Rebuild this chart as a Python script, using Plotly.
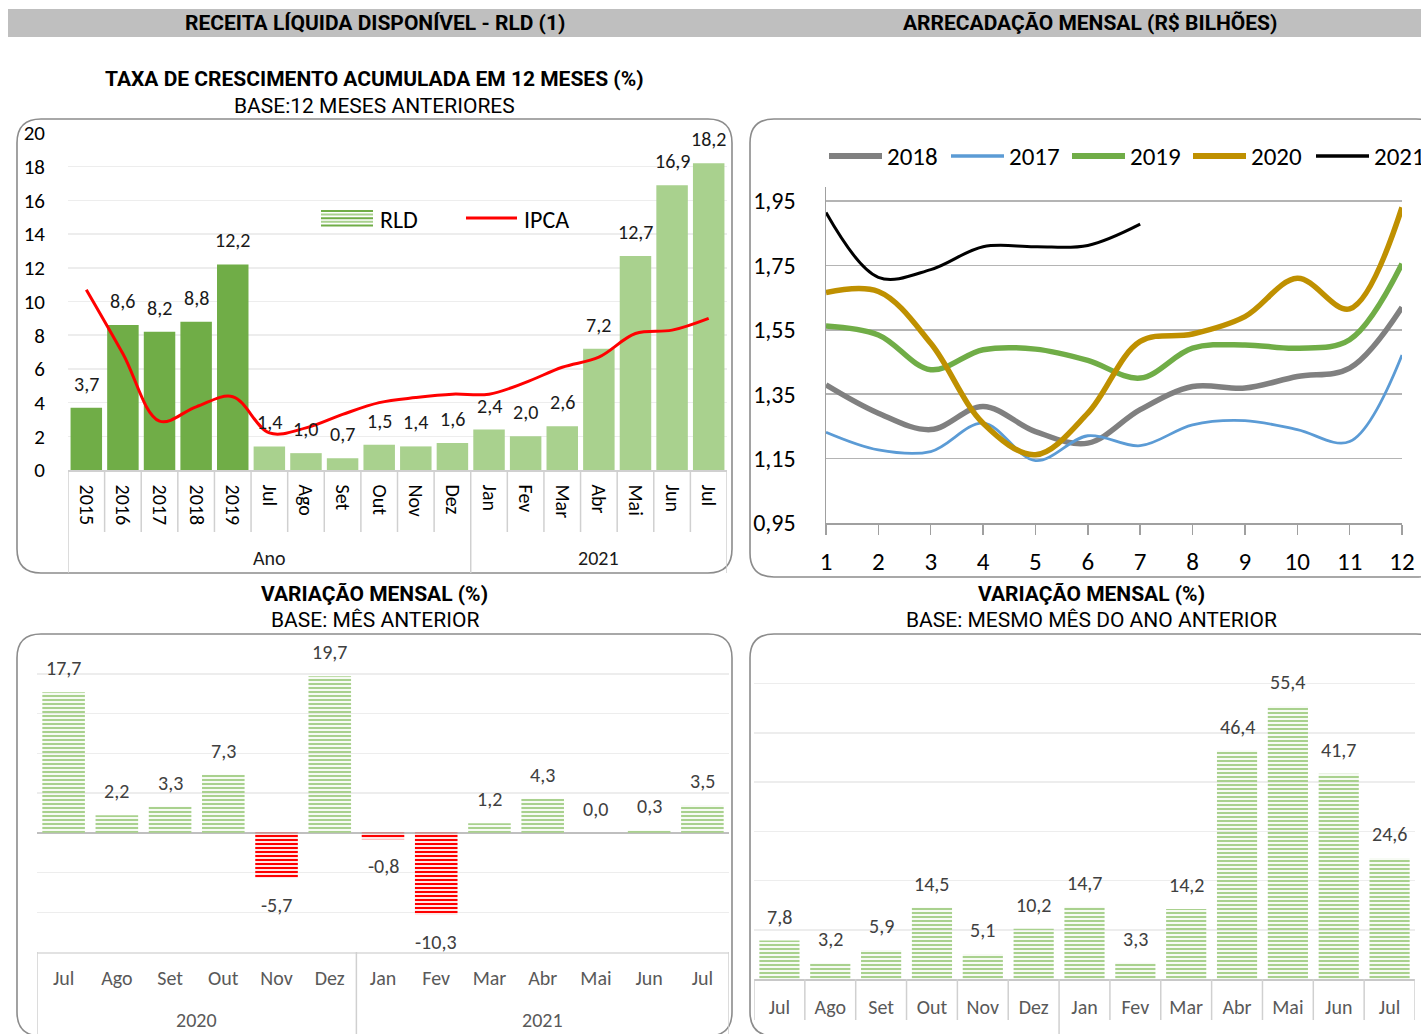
import plotly.graph_objects as go

W, H = 1421, 1034

# ---------------- DATA ----------------
cats_acc = ["2015", "2016", "2017", "2018", "2019", "Jul", "Ago", "Set", "Out", "Nov", "Dez",
            "Jan", "Fev", "Mar", "Abr", "Mai", "Jun", "Jul"]
groups_acc = ["Ano"] * 11 + ["2021"] * 7
rld_acc = [3.7, 8.6, 8.2, 8.8, 12.2, 1.4, 1.0, 0.7, 1.5, 1.4, 1.6, 2.4, 2.0, 2.6, 7.2, 12.7, 16.9, 18.2]
ipca_acc = [10.7, 6.9, 2.9, 3.75, 4.35, 2.2, 2.5, 3.3, 4.0, 4.3, 4.5, 4.5, 5.2, 6.1, 6.7, 8.1, 8.3, 9.0]

meses_num = [1, 2, 3, 4, 5, 6, 7, 8, 9, 10, 11, 12]
arr_2018 = [1.379, 1.291, 1.240, 1.312, 1.234, 1.198, 1.302, 1.374, 1.369, 1.405, 1.431, 1.620]
arr_2017 = [1.232, 1.177, 1.172, 1.260, 1.144, 1.221, 1.190, 1.255, 1.268, 1.240, 1.203, 1.472]
arr_2019 = [1.562, 1.534, 1.426, 1.488, 1.490, 1.455, 1.400, 1.493, 1.503, 1.493, 1.519, 1.755]
arr_2020 = [1.666, 1.669, 1.508, 1.260, 1.162, 1.291, 1.514, 1.537, 1.591, 1.710, 1.615, 1.930]
arr_2021 = [1.914, 1.713, 1.737, 1.808, 1.808, 1.812, 1.878]
arr_ticks = [0.95, 1.15, 1.35, 1.55, 1.75, 1.95]

meses_var = ["Jul", "Ago", "Set", "Out", "Nov", "Dez", "Jan", "Fev", "Mar", "Abr", "Mai", "Jun", "Jul"]
anos_var = ["2020"] * 6 + ["2021"] * 7
var_mes_ant = [17.7, 2.2, 3.3, 7.3, -5.7, 19.7, -0.8, -10.3, 1.2, 4.3, 0.0, 0.3, 3.5]
var_ano_ant = [7.8, 3.2, 5.9, 14.5, 5.1, 10.2, 14.7, 3.3, 14.2, 46.4, 55.4, 41.7, 24.6]

# ---------------- STYLE ----------------
BODY = "Calibri, Carlito, Lato, sans-serif"
TITLE = "Arial Narrow, Liberation Sans Narrow, Roboto, sans-serif"
DARK_G = "#70AD47"
LIGHT_G = "#A9D18E"
RED = "#FF0000"
GRID = "#EDEDED"
SEP = "#D0D0D0"


def px(x):
    return x / W


def py(y):
    return 1 - y / H


def fmt(v):
    return f"{v:.1f}".replace(".", ",")


def note(x, y, text, xref="paper", yref="paper", size=20, color="#000", family=BODY,
         xanchor="center", yanchor="middle", yshift=0):
    return dict(x=x, y=y, xref=xref, yref=yref, text=text, showarrow=False,
                xanchor=xanchor, yanchor=yanchor, yshift=yshift,
                font=dict(family=family, size=size, color=color))


fig = go.Figure()
shapes = []
ann = []

# ---------------- Panel 1 ----------------
idx_acc = list(range(len(cats_acc)))
bar_cols = [DARK_G if c.isdigit() else LIGHT_G for c in cats_acc]
fig.add_trace(go.Bar(x=idx_acc, y=rld_acc, marker=dict(color=bar_cols, line=dict(width=0)),
                     width=0.86, xaxis="x", yaxis="y", showlegend=False, hoverinfo="skip"))
fig.add_trace(go.Scatter(x=idx_acc, y=ipca_acc, mode="lines",
                         line=dict(color=RED, width=3, shape="spline", smoothing=1.0),
                         xaxis="x", yaxis="y", showlegend=False, hoverinfo="skip"))
for i, v in enumerate(rld_acc):
    ann.append(note(i, v, fmt(v), xref="x", yref="y", size=20, color="#1a1a1a", yshift=24))
for i in range(len(cats_acc) + 1):
    b = i - 0.5
    full = i == 0 or i == len(cats_acc) or groups_acc[i] != groups_acc[i - 1]
    shapes.append(dict(type="line", xref="x", yref="paper", x0=b, x1=b, y0=py(470),
                       y1=py(573 if full else 532), line=dict(color=SEP, width=1.5)))
grp_order = []
for g in groups_acc:
    if g not in grp_order:
        grp_order.append(g)
for g in grp_order:
    ids = [i for i, gg in enumerate(groups_acc) if gg == g]
    ann.append(note((ids[0] + ids[-1]) / 2, py(558), g, xref="x", size=20, color="#1a1a1a"))
for k in range(5):
    yy = 211 + k * 3.6
    shapes.append(dict(type="line", xref="paper", yref="paper", x0=px(321), x1=px(373), y0=py(yy), y1=py(yy),
                       line=dict(color=DARK_G if k % 2 == 0 else LIGHT_G, width=2)))
ann.append(note(px(378), py(219), "RLD", size=24, xanchor="left"))
shapes.append(dict(type="line", xref="paper", yref="paper", x0=px(466), x1=px(517), y0=py(218), y1=py(218),
                   line=dict(color=RED, width=3)))
ann.append(note(px(522), py(219), "IPCA", size=24, xanchor="left"))

# ---------------- Panel 2 ----------------
series2 = [("2018", arr_2018, "#808080", 5.5), ("2017", arr_2017, "#5B9BD5", 2.8),
           ("2019", arr_2019, "#70AD47", 5.5), ("2020", arr_2020, "#BF9000", 5.5),
           ("2021", arr_2021, "#000000", 3)]
for name, ys, col, w in series2:
    fig.add_trace(go.Scatter(x=meses_num[:len(ys)], y=ys, mode="lines", name=name,
                             line=dict(color=col, width=w, shape="spline", smoothing=1.0),
                             xaxis="x2", yaxis="y2", showlegend=False, hoverinfo="skip"))
leg_x = [829, 951, 1072, 1193, 1316]
for (name, ys, col, w), lx in zip(series2, leg_x):
    shapes.append(dict(type="line", xref="paper", yref="paper", x0=px(lx), x1=px(lx + 53), y0=py(156), y1=py(156),
                       line=dict(color=col, width=w + 0.5)))
    ann.append(note(px(lx + 56), py(156), name, size=25, xanchor="left"))

# ---------------- Panel 3 ----------------
idx_var = list(range(len(meses_var)))
cols3 = [LIGHT_G if v >= 0 else RED for v in var_mes_ant]
fig.add_trace(go.Bar(x=idx_var, y=var_mes_ant,
                     marker=dict(color=cols3, line=dict(width=0),
                                 pattern=dict(shape="-", size=4, solidity=0.55, fillmode="replace",
                                              fgcolor=cols3, bgcolor="white", fgopacity=1)),
                     width=0.8, xaxis="x3", yaxis="y3", showlegend=False, hoverinfo="skip"))
for i, v in enumerate(var_mes_ant):
    ann.append(note(i, v, fmt(v), xref="x3", yref="y3", size=20, color="#404040",
                    yshift=24 if v >= 0 else -27))
for i in range(len(meses_var) + 1):
    b = i - 0.5
    full = i == 0 or i == len(meses_var) or anos_var[i] != anos_var[i - 1]
    if full:
        shapes.append(dict(type="line", xref="x3", yref="paper", x0=b, x1=b, y0=py(952), y1=py(1040),
                           line=dict(color=SEP, width=1.5)))
for g in ["2020", "2021"]:
    ids = [i for i, gg in enumerate(anos_var) if gg == g]
    ann.append(note((ids[0] + ids[-1]) / 2, py(1020), g, xref="x3", size=20, color="#595959"))

# ---------------- Panel 4 ----------------
cols4 = [LIGHT_G for v in var_ano_ant]
fig.add_trace(go.Bar(x=idx_var, y=var_ano_ant,
                     marker=dict(color=cols4, line=dict(width=0),
                                 pattern=dict(shape="-", size=4, solidity=0.55, fillmode="replace",
                                              fgcolor=cols4, bgcolor="white", fgopacity=1)),
                     width=0.79, xaxis="x4", yaxis="y4", showlegend=False, hoverinfo="skip"))
for i, v in enumerate(var_ano_ant):
    ann.append(note(i, v, fmt(v), xref="x4", yref="y4", size=20, color="#404040", yshift=24))
for i in range(len(meses_var) + 1):
    b = i - 0.5
    full = 0 < i < len(meses_var) and anos_var[i] != anos_var[i - 1]
    shapes.append(dict(type="line", xref="x4", yref="paper", x0=b, x1=b, y0=py(979),
                       y1=py(1040 if full else 1020), line=dict(color=SEP, width=1.5)))

# ---------------- Titles / header ----------------
shapes.append(dict(type="rect", xref="paper", yref="paper", x0=px(8), x1=px(1421), y0=py(37), y1=py(9),
                   fillcolor="#BFBFBF", line=dict(width=0), layer="below"))
titles = [
    ("RECEITA LÍQUIDA DISPONÍVEL - RLD (1)", 375, 23, True),
    ("ARRECADAÇÃO MENSAL (R$ BILHÕES)", 1090, 23, True),
    ("TAXA DE CRESCIMENTO ACUMULADA EM 12 MESES (%)", 375, 79, True),
    ("BASE:12 MESES ANTERIORES", 375, 106, False),
    ("VARIAÇÃO MENSAL (%)", 375, 594, True),
    ("BASE: MÊS ANTERIOR", 375, 620, False),
    ("VARIAÇÃO MENSAL (%)", 1091, 594, True),
    ("BASE: MESMO MÊS DO ANO ANTERIOR", 1091, 620, False),
]
for t, x, y, bold in titles:
    ann.append(note(px(x), py(y), f"<b>{t}</b>" if bold else t, size=21, family=TITLE))


def rounded(x0, y0, x1, y1, r):
    X = lambda v: f"{px(v):.5f}"
    Y = lambda v: f"{py(v):.5f}"
    pts = [f"M {X(x0 + r)},{Y(y0)}", f"L {X(x1 - r)},{Y(y0)}",
           f"Q {X(x1)},{Y(y0)} {X(x1)},{Y(y0 + r)}", f"L {X(x1)},{Y(y1 - r)}",
           f"Q {X(x1)},{Y(y1)} {X(x1 - r)},{Y(y1)}", f"L {X(x0 + r)},{Y(y1)}",
           f"Q {X(x0)},{Y(y1)} {X(x0)},{Y(y1 - r)}", f"L {X(x0)},{Y(y0 + r)}",
           f"Q {X(x0)},{Y(y0)} {X(x0 + r)},{Y(y0)}", "Z"]
    return " ".join(pts)


for box in [(17, 119, 732, 573), (750, 119, 1440, 577), (17, 634, 732, 1036), (750, 634, 1440, 1036)]:
    shapes.append(dict(type="path", xref="paper", yref="paper", path=rounded(*box, 24),
                       line=dict(color="#8C8C8C", width=1.6), layer="below"))

fig.update_layout(
    width=W, height=H, margin=dict(l=0, r=0, t=0, b=0, autoexpand=False),
    paper_bgcolor="white", plot_bgcolor="rgba(0,0,0,0)",
    bargap=0.13, showlegend=False,
    shapes=shapes, annotations=ann,
    xaxis=dict(domain=[px(68), px(727)], range=[-0.5, len(cats_acc) - 0.5], anchor="y",
               tickvals=idx_acc, ticktext=cats_acc, tickangle=90, showgrid=False,
               showline=True, linecolor=SEP, linewidth=1.5, ticks="", ticklabelstandoff=9,
               tickfont=dict(family=BODY, size=20, color="#000"), zeroline=False),
    yaxis=dict(domain=[py(470), py(133)], range=[0, 20], dtick=2, anchor="x",
               showgrid=True, gridcolor=GRID, gridwidth=1.5, zeroline=False, ticks="",
               ticklabelstandoff=22, tickfont=dict(family=BODY, size=21, color="#000"), showline=False),
    xaxis2=dict(domain=[px(826), px(1402)], range=[1, 12], anchor="y2", tickvals=meses_num,
                showgrid=False, showline=True, linecolor="#A0A0A0", linewidth=1.5,
                ticks="outside", ticklen=10, tickcolor="#A0A0A0", tickwidth=1.5,
                ticklabelstandoff=5,
                tickfont=dict(family=BODY, size=25, color="#000"), zeroline=False),
    yaxis2=dict(domain=[py(523), py(187)], range=[0.95, 1.9935], anchor="x2",
                tickvals=arr_ticks, ticktext=[f"{t:.2f}".replace(".", ",") for t in arr_ticks],
                showgrid=True, gridcolor="#B4B4B4", gridwidth=1.5, zeroline=False,
                showline=True, linecolor="#A0A0A0", linewidth=1.5, ticks="",
                ticklabelstandoff=24, tickfont=dict(family=BODY, size=24, color="#000")),
    xaxis3=dict(domain=[px(37), px(729)], range=[-0.5, len(meses_var) - 0.5], anchor="y3",
                tickvals=idx_var, ticktext=meses_var, showgrid=False, showline=True,
                linecolor="#E2E2E2", linewidth=2, ticks="", ticklabelstandoff=7,
                tickfont=dict(family=BODY, size=20, color="#595959"), zeroline=False),
    yaxis3=dict(domain=[py(952), py(654)], range=[-15, 22.5], dtick=5, anchor="x3",
                showgrid=True, gridcolor=GRID, gridwidth=1.5, zeroline=True, zerolinecolor="#BFBFBF",
                zerolinewidth=2, showticklabels=False, ticks=""),
    xaxis4=dict(domain=[px(754), px(1415)], range=[-0.5, len(meses_var) - 0.5], anchor="y4",
                tickvals=idx_var, ticktext=meses_var, showgrid=False, showline=True,
                linecolor="#C8C8C8", linewidth=2, ticks="", ticklabelstandoff=9,
                tickfont=dict(family=BODY, size=20, color="#595959"), zeroline=False),
    yaxis4=dict(domain=[py(979), py(659)], range=[0, 65], dtick=10, anchor="x4",
                showgrid=True, gridcolor=GRID, gridwidth=1.5, zeroline=False,
                showticklabels=False, ticks=""),
)

fig.write_html(
    "out.html",
    config={"displayModeBar": False, "staticPlot": True},
    post_script="document.body.style.margin='0px';document.body.style.overflow='hidden';",
)
